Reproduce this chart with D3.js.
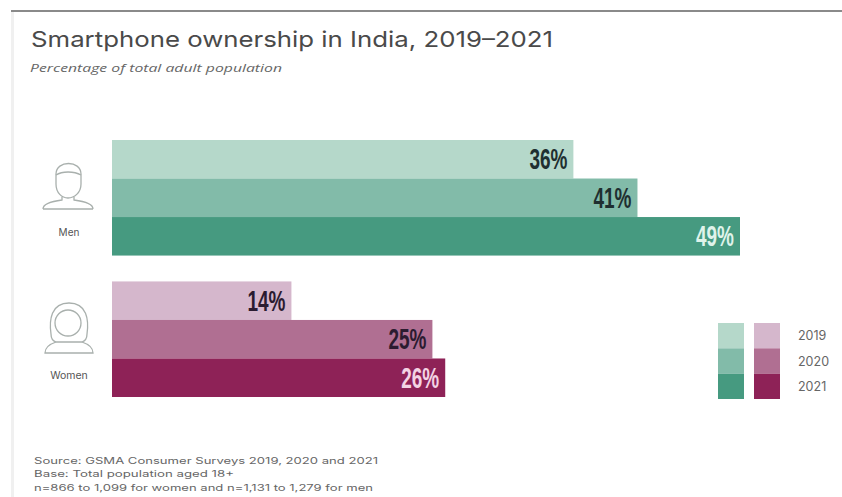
<!DOCTYPE html>
<html>
<head>
<meta charset="utf-8">
<script src="https://cdn.jsdelivr.net/npm/d3@7"></script>
<style>
  html, body { margin: 0; padding: 0; background: #fff; }
  svg { display: block; }
</style>
</head>
<body>
<svg id="chart" width="842" height="497"></svg>
<script>
const years = ["2019", "2020", "2021"];
const groups = ["Men", "Women"];
const menValues = [36, 41, 49];
const womenValues = [14, 25, 26];
const menColors = ["#b5d8ca", "#82bba9", "#469a80"];
const womenColors = ["#d5b7cc", "#b06f92", "#8e2257"];
const labelColors = ["#1f2f30", "#1f2f30", "#dff3ea"];
const womenLabelColors = ["#2b1b30", "#2b1b30", "#f3d3e4"];
const footnotes = [
  "Source: GSMA Consumer Surveys 2019, 2020 and 2021",
  "Base: Total population aged 18+",
  "n=866 to 1,099 for women and n=1,131 to 1,279 for men"
];
const footnoteWidths = [344, 200, 339];

const svg = d3.select("#chart");

// Page frame: rule along the top and a pale strip on the left
svg.append("rect").attr("x", 11).attr("y", 10).attr("width", 831).attr("height", 2).attr("fill", "#8a8a8a");
svg.append("rect").attr("x", 11).attr("y", 12).attr("width", 3).attr("height", 485).attr("fill", "#f0f0f0");

svg.append("text")
  .attr("x", 31).attr("y", 47)
  .attr("font-family", "Inter, 'Open Sans', sans-serif")
  .attr("font-size", 22)
  .attr("fill", "#4a4a4a")
  .attr("textLength", 522)
  .attr("lengthAdjust", "spacingAndGlyphs")
  .text("Smartphone ownership in India, 2019–2021");

svg.append("text")
  .attr("x", 30).attr("y", 72)
  .attr("font-family", "'Open Sans', sans-serif")
  .attr("font-style", "italic")
  .attr("font-size", 10.5)
  .attr("fill", "#666")
  .attr("textLength", 252)
  .attr("lengthAdjust", "spacingAndGlyphs")
  .text("Percentage of total adult population");

// Scales
const x = d3.scaleLinear().domain([0, 49]).range([112, 740]);
const yGroup = d3.scaleBand().domain(groups).range([140, 397]).paddingInner(0.183);
const yYear = d3.scaleBand().domain(years).range([0, yGroup.bandwidth()]);

const series = [
  { group: "Men", values: menValues, colors: menColors, labels: labelColors },
  { group: "Women", values: womenValues, colors: womenColors, labels: womenLabelColors }
];

series.forEach(s => {
  const g = svg.append("g").attr("transform", `translate(0,${yGroup(s.group)})`);
  const rows = years.map((year, i) => ({ year, value: s.values[i], fill: s.colors[i], ink: s.labels[i] }));

  g.selectAll("rect").data(rows).join("rect")
    .attr("x", x(0))
    .attr("y", d => yYear(d.year))
    .attr("width", d => x(d.value) - x(0))
    .attr("height", yYear.bandwidth())
    .attr("fill", d => d.fill);

  g.selectAll("text").data(rows).join("text")
    .attr("x", d => x(d.value) - 6)
    .attr("y", d => yYear(d.year) + yYear.bandwidth() / 2 + 10)
    .attr("text-anchor", "end")
    .attr("font-family", "'Liberation Sans Narrow', 'Liberation Sans', sans-serif")
    .attr("font-weight", 700)
    .attr("font-size", 29)
    .attr("fill", d => d.ink)
    .attr("textLength", 38)
    .attr("lengthAdjust", "spacingAndGlyphs")
    .text(d => d.value + "%");
});

// Group captions beneath the person icons
const captionY = { Men: 236, Women: 379 };
const captionSize = { Men: 10, Women: 10.5 };
groups.forEach(name => {
  svg.append("text")
    .attr("x", 69).attr("y", captionY[name])
    .attr("text-anchor", "middle")
    .attr("font-family", "Inter, 'Open Sans', sans-serif")
    .attr("font-size", captionSize[name])
    .attr("fill", "#555")
    .text(name);
});

// Person icons
const iconStyle = sel => sel.attr("fill", "none").attr("stroke", "#a9b0ad").attr("stroke-width", 1.3);
iconStyle(svg.append("g").attr("transform", "translate(68,190)"))
  .call(g => {
    g.append("path").attr("d", "M-12,-16 C-12,-30 13,-30 13,-16 L13,-6 C13,3 6,8 0,8 C-6,8 -12,3 -12,-6 Z");
    g.append("path").attr("d", "M-12,-15 C-6,-19 6,-19 13,-15");
    g.append("path").attr("d", "M-6,7 L-6,10 C-14,11 -25,13 -25,19 M6,7 L6,10 C14,11 25,13 25,19 M-25,19 L25,19");
  });
iconStyle(svg.append("g").attr("transform", "translate(69,330)"))
  .call(g => {
    g.append("path").attr("d", "M-18,4 C-20,-10 -18,-27 0,-27 C18,-27 20,-10 18,4 C18,9 16,11 13,12 L-13,12 C-16,11 -18,9 -18,4 Z");
    g.append("circle").attr("cx", -1).attr("cy", -7).attr("r", 13);
    g.append("path").attr("d", "M-13,12 C-19,14 -24,17 -24,23 L24,23 C24,17 19,14 13,12");
  });

// Legend: one column of swatches per group, shared year labels
const legendColumns = [
  { x: 718, colors: menColors },
  { x: 754, colors: womenColors }
];
const legendY = d3.scaleBand().domain(years).range([323, 399]);
legendColumns.forEach(col => {
  svg.append("g").selectAll("rect").data(years).join("rect")
    .attr("x", col.x)
    .attr("y", d => legendY(d))
    .attr("width", 26)
    .attr("height", legendY.bandwidth())
    .attr("fill", (d, i) => col.colors[i]);
});
svg.append("g").selectAll("text").data(years).join("text")
  .attr("x", 798)
  .attr("y", d => legendY(d) + legendY.bandwidth() / 2 + 4.5)
  .attr("font-family", "Inter, 'Open Sans', sans-serif")
  .attr("font-size", 12.5)
  .attr("fill", "#666")
  .text(d => d);

// Footnotes
svg.append("g").selectAll("text").data(footnotes).join("text")
  .attr("x", 34)
  .attr("y", (d, i) => 463.5 + i * 13.5)
  .attr("font-family", "Inter, 'Open Sans', sans-serif")
  .attr("font-size", 9)
  .attr("fill", "#666")
  .attr("textLength", (d, i) => footnoteWidths[i])
  .attr("lengthAdjust", "spacingAndGlyphs")
  .text(d => d);
</script>
</body>
</html>
